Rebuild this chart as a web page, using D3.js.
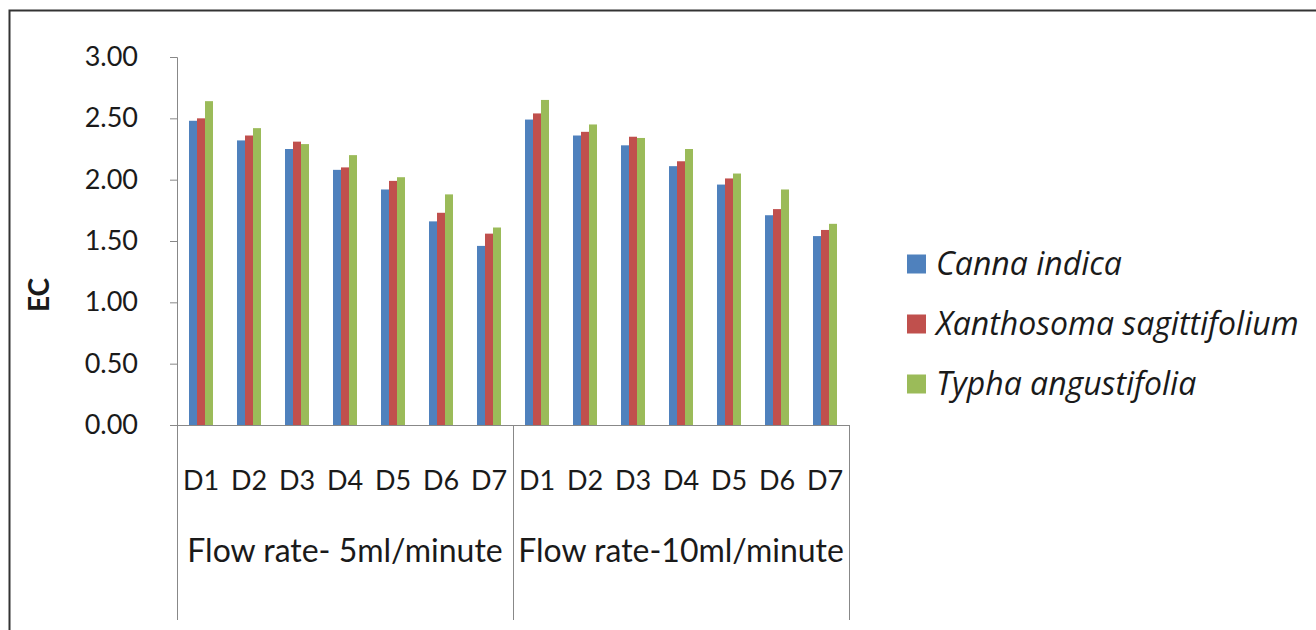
<!DOCTYPE html>
<html lang="en">
<head>
    <meta charset="UTF-8">
    <title>EC by flow rate</title>
    <script src="https://d3js.org/d3.v7.min.js"></script>
    <style>
        body { margin: 0; background: #fff; }
        text { font-family: Lato, "Open Sans", sans-serif; fill: #1a1a1a; }
    </style>
</head>
<body>
    <div id="chart-container"></div>

    <script>
        // data
        const flowRates = ["Flow rate- 5ml/minute", "Flow rate-10ml/minute"];
        const days = ["D1", "D2", "D3", "D4", "D5", "D6", "D7"];
        const species = ["Canna indica", "Xanthosoma sagittifolium", "Typha angustifolia"];
        const colors = ["#4F81BD", "#C0504D", "#9BBB59"];
        const yTicks = [0, 0.5, 1, 1.5, 2, 2.5, 3];

        // one array per species, 5ml first then 10ml
        const cannaEC = [2.48, 2.32, 2.25, 2.08, 1.92, 1.66, 1.46,
                         2.49, 2.36, 2.28, 2.11, 1.96, 1.71, 1.54];
        const xanthoEC = [2.50, 2.36, 2.31, 2.10, 1.99, 1.73, 1.56,
                          2.54, 2.39, 2.35, 2.15, 2.01, 1.76, 1.59];
        const typhaEC = [2.64, 2.42, 2.29, 2.20, 2.02, 1.88, 1.61,
                         2.65, 2.45, 2.34, 2.25, 2.05, 1.92, 1.64];
        const seriesValues = [cannaEC, xanthoEC, typhaEC];

        const containerWidth = 1316;
        const containerHeight = 630;
        const margins = {top: 57, left: 177, bottom: 205, right: 467};
        const width = containerWidth - margins.left - margins.right;
        const height = containerHeight - margins.top - margins.bottom;

        // build category keys like "0-D1"
        const cats = [];
        flowRates.forEach((f, i) => days.forEach(d => cats.push(i + "-" + d)));

        const rows = [];
        cats.forEach((c, ci) => {
            species.forEach((s, si) => rows.push({cat: c, sp: s, value: seriesValues[si][ci]}));
        });

        const svg = d3.select("#chart-container")
            .append("svg")
            .attr("width", containerWidth)
            .attr("height", containerHeight);

        // outer frame (only top + left visible in the crop)
        svg.append("path")
            .attr("d", "M9.5,640 V10.5 H1320")
            .attr("fill", "none")
            .attr("stroke", "#333")
            .attr("stroke-width", 2);

        const g = svg.append("g")
            .attr("transform", `translate(${margins.left},${margins.top})`);

        const x = d3.scaleBand()
            .domain(cats)
            .range([0, width])
            .paddingInner(0.5)
            .paddingOuter(0.25);

        const xSub = d3.scaleBand()
            .domain(species)
            .range([0, x.bandwidth()]);

        const y = d3.scaleLinear()
            .domain([0, 3])
            .range([height, 0]);

        const color = d3.scaleOrdinal().domain(species).range(colors);

        // y axis
        const yAxis = g.append("g")
            .call(d3.axisLeft(y).tickValues(yTicks).tickFormat(d3.format(".2f")).tickSize(7).tickPadding(32));
        yAxis.select(".domain").attr("stroke", "#888");
        yAxis.selectAll(".tick line").attr("stroke", "#888");
        yAxis.selectAll(".tick text")
            .style("font-family", "Lato, sans-serif")
            .style("font-size", "27px")
            .attr("fill", "#1a1a1a");

        // bars
        g.selectAll(".bar")
            .data(rows)
            .join("rect")
            .attr("class", "bar")
            .attr("x", d => x(d.cat) + xSub(d.sp))
            .attr("y", d => y(d.value))
            .attr("width", xSub.bandwidth())
            .attr("height", d => height - y(d.value))
            .attr("fill", d => color(d.sp));

        // x axis baseline
        g.append("line")
            .attr("x1", 0).attr("x2", width)
            .attr("y1", height + 0.5).attr("y2", height + 0.5)
            .attr("stroke", "#888");

        // group separators for the two-level axis
        const groupW = width / flowRates.length;
        const seps = d3.range(flowRates.length + 1).map(i => i * groupW);
        g.selectAll(".sep")
            .data(seps)
            .join("line")
            .attr("class", "sep")
            .attr("x1", d => Math.round(d) + 0.5).attr("x2", d => Math.round(d) + 0.5)
            .attr("y1", height).attr("y2", 620 - margins.top)
            .attr("stroke", "#888");

        // day labels
        g.selectAll(".day")
            .data(cats)
            .join("text")
            .attr("class", "day")
            .attr("x", d => x(d) + x.bandwidth() / 2)
            .attr("y", height + 65)
            .attr("text-anchor", "middle")
            .style("font-size", "27px")
            .text(d => d.split("-")[1]);

        // flow rate labels
        g.selectAll(".flow")
            .data(flowRates)
            .join("text")
            .attr("class", "flow")
            .attr("x", (d, i) => i * groupW + groupW / 2)
            .attr("y", height + 137)
            .attr("text-anchor", "middle")
            .style("font-size", "32px")
            .text(d => d);

        // y title
        svg.append("text")
            .attr("transform", "translate(49,295) rotate(-90)")
            .attr("text-anchor", "middle")
            .style("font-size", "28px")
            .style("font-weight", "bold")
            .text("EC");

        // legend
        const legend = svg.append("g")
            .attr("transform", "translate(907,264)");
        const item = legend.selectAll(".item")
            .data(species)
            .join("g")
            .attr("class", "item")
            .attr("transform", (d, i) => `translate(0,${i * 60})`);
        item.append("rect")
            .attr("x", 0).attr("y", -9.5)
            .attr("width", 19).attr("height", 19)
            .attr("fill", d => color(d));
        item.append("text")
            .attr("x", 29)
            .attr("y", 11)
            .style("font-family", "'Open Sans', sans-serif")
            .style("font-size", "32px")
            .style("font-style", "italic")
            .text(d => d);
    </script>
</body>
</html>
